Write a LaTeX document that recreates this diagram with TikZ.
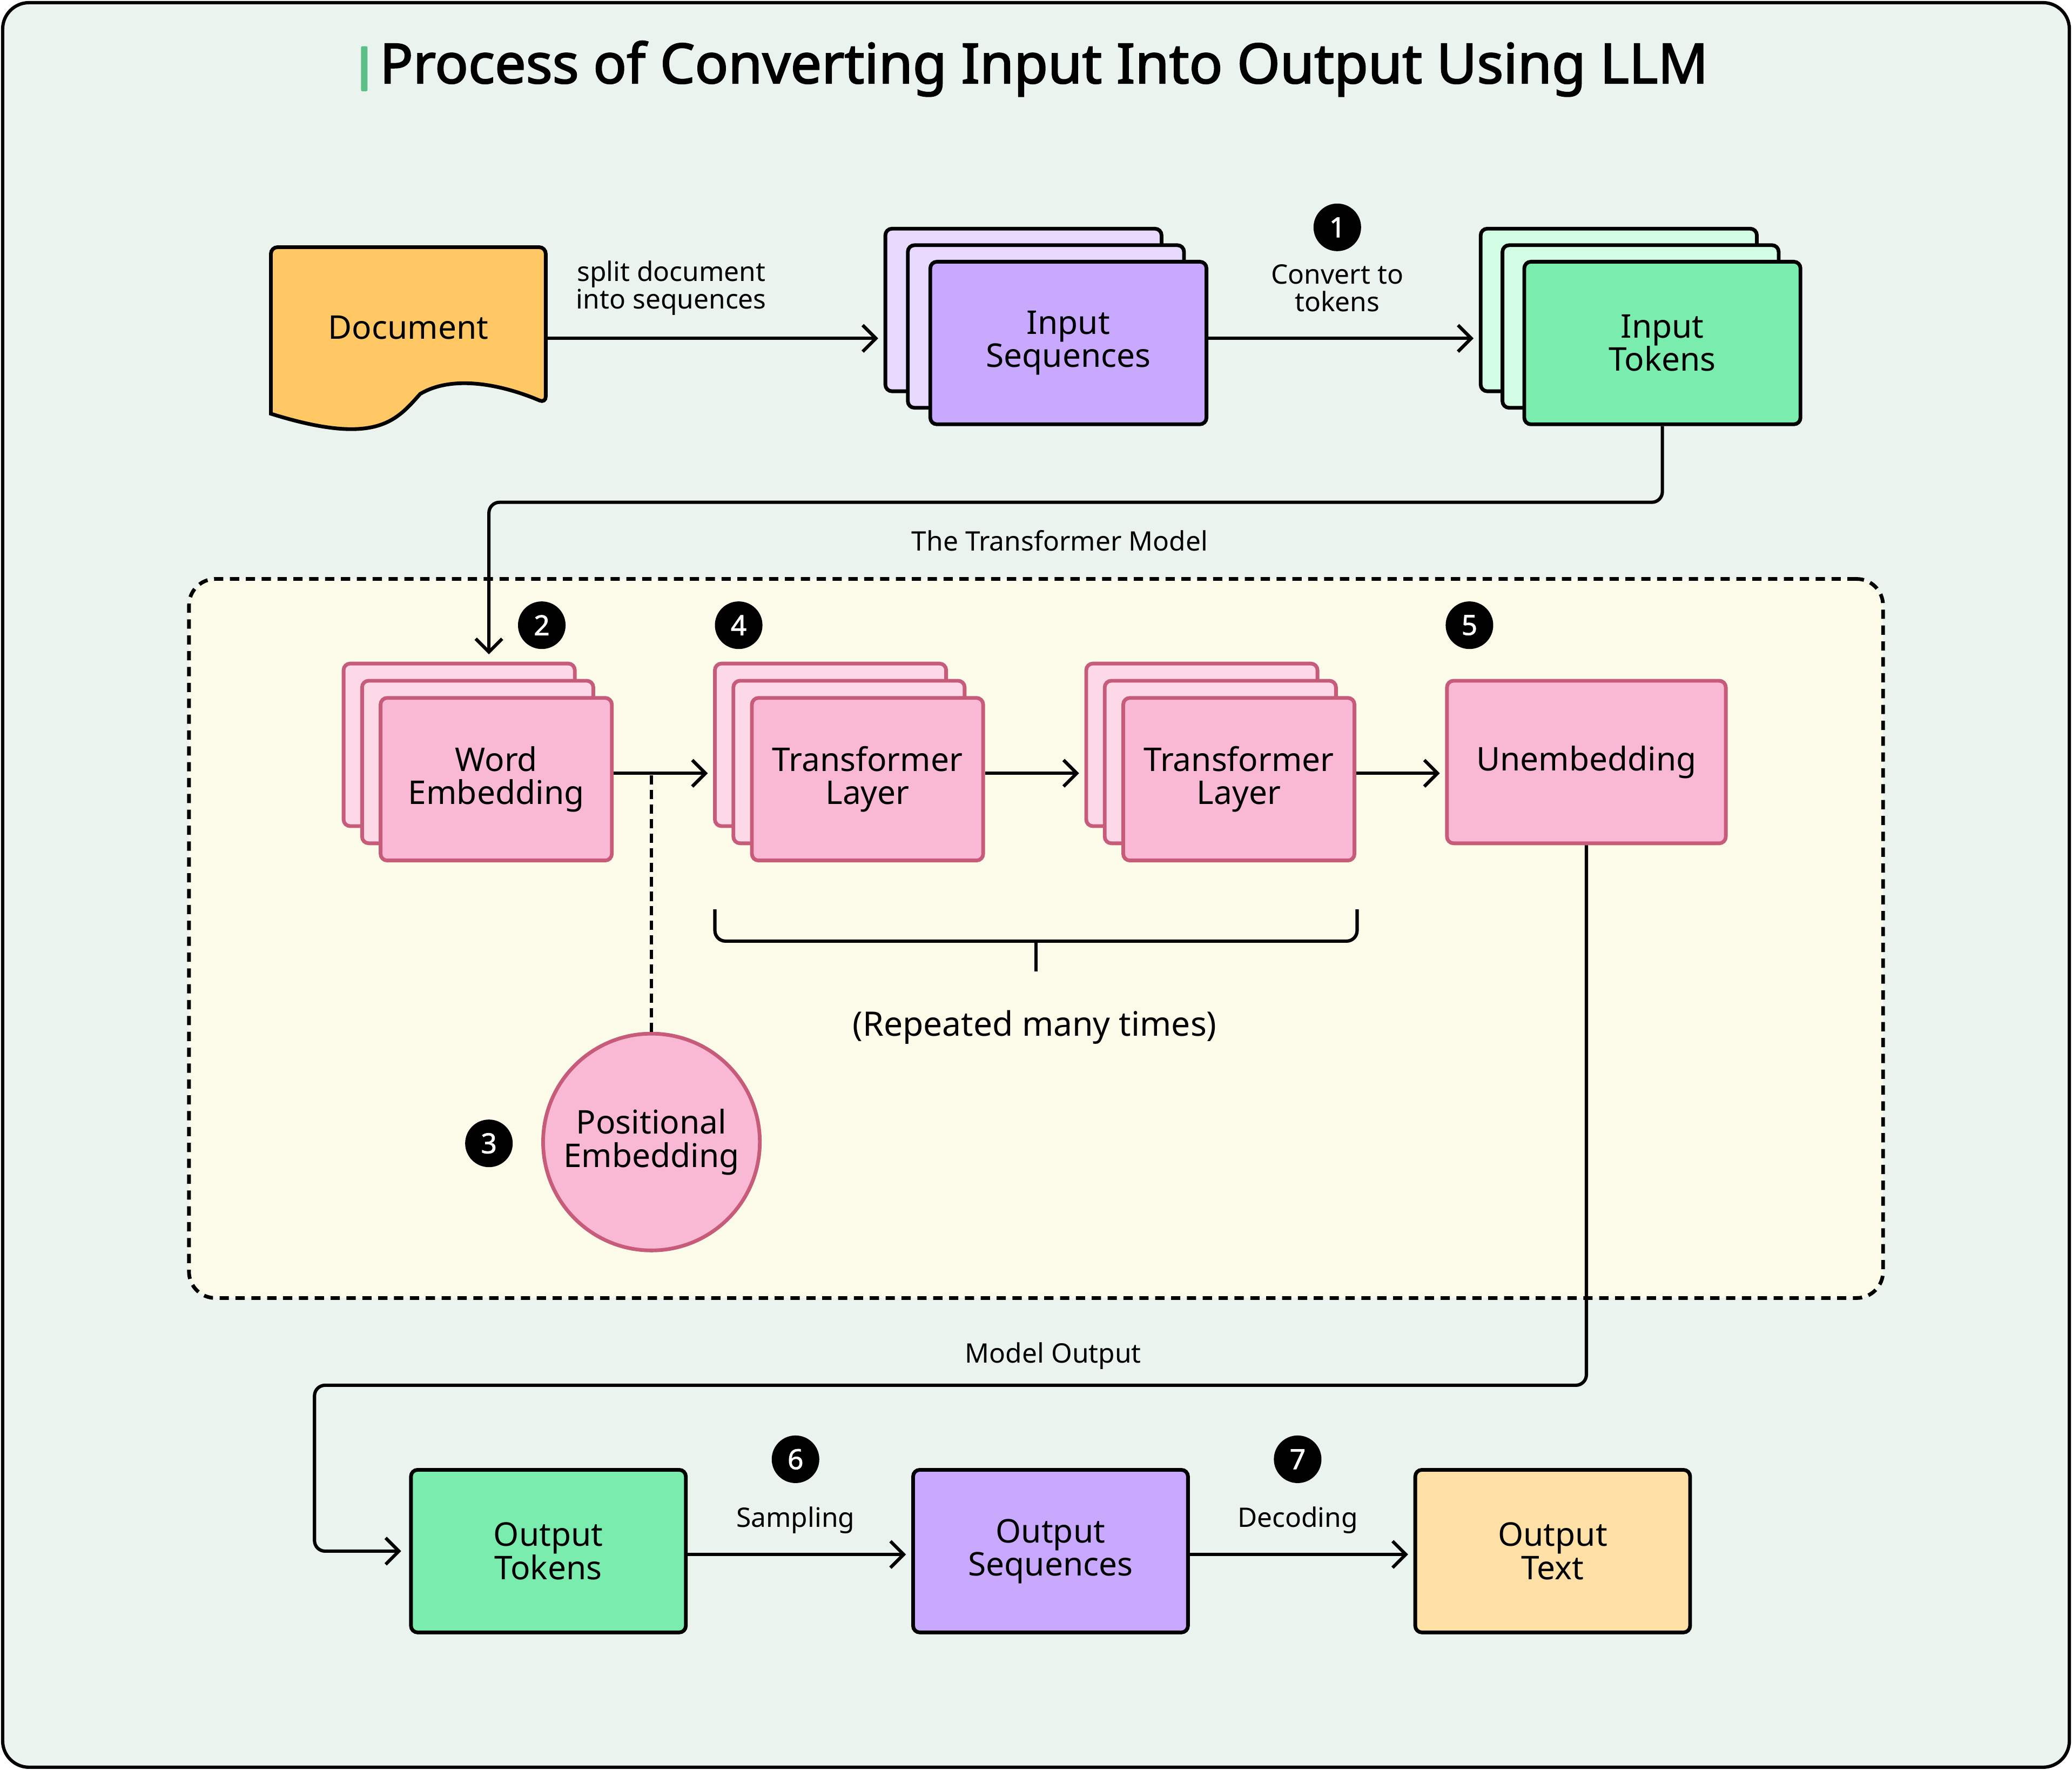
\documentclass[tikz,border=0pt]{standalone}
\usepackage{fontspec}
\setmainfont{Noto Sans}
\newfontfamily\titlefont{Noto Sans}[FakeBold=2.2]
\newfontfamily\badgefont{Noto Sans}[FakeBold=1.6]
\usepackage{tikz}
\usetikzlibrary{arrows.meta}
\definecolor{bgmint}{HTML}{EAF3EE}
\definecolor{tfmfill}{HTML}{FCFBEA}
\definecolor{docfill}{HTML}{FFC864}
\definecolor{purplefill}{HTML}{C8A9FE}
\definecolor{purpleback}{HTML}{E7DAFE}
\definecolor{greenfill}{HTML}{7AEDAE}
\definecolor{greenback}{HTML}{D3FCE5}
\definecolor{pinkfill}{HTML}{F9B9D5}
\definecolor{pinkback}{HTML}{FDD9E8}
\definecolor{pinkline}{HTML}{C75C7A}
\definecolor{textfill}{HTML}{FFE1A8}
\definecolor{titlebar}{HTML}{5CBF88}

\begin{document}
\begin{tikzpicture}[
      x=1pt, y=-1pt,
      box/.style={
        draw, line width=2.8pt, rounded corners=5pt,
        minimum width=209pt, minimum height=123pt,
        align=center, font=\fontsize{24.7}{25}\selectfont
      },
      pinkbox/.style={
        box, draw=pinkline, fill=pinkfill, minimum width=175pt
      },
      badge/.style={
        circle, fill=black, text=white, inner sep=0pt,
        minimum size=36pt, font=\badgefont\fontsize{21}{21}\selectfont
      },
      lbl/.style={
        align=center, font=\fontsize{20.3}{21}\selectfont
      },
      arr/.style={
        line width=2.5pt, shorten >=4pt,
        -{Straight Barb[length=10pt,width=20pt]}
      },
      dots/.style={line width=2.5pt, dash pattern=on 7pt off 4pt}
    ]
      \useasboundingbox (0,0) rectangle (1568,1339);
      \draw[line width=2.5pt, fill=bgmint, rounded corners=20pt]
        (2,2) rectangle (1566,1337);

      \node[inner sep=0pt, font=\titlefont\fontsize{41.8}{40}\selectfont]
        (title) at (790,52)
        {Process of Converting Input Into Output Using LLM};
      \fill[titlebar, rounded corners=1pt]
        ([xshift=-14pt,yshift=17pt]title.west)
        rectangle ([xshift=-9pt,yshift=-17pt]title.west);

      \node[draw, line width=2.8pt, dash pattern=on 7pt off 5pt,
        fill=tfmfill, rounded corners=20pt,
        minimum width=1282pt, minimum height=544pt] (tfm) at (784,710){};
      \node[lbl] (tfmlbl) at (802,409){The Transformer Model};

      \filldraw[fill=docfill, line width=2.8pt, rounded corners=5pt]
        (205,313) -- (205,187) -- (413,187) -- (413,305)
        [sharp corners] .. controls (385,293) and (345,282) .. (318,298)
        .. controls (300,318) and (285,338) .. (205,313) -- cycle;
      \node[box, draw=none, minimum width=208pt, minimum height=118pt]
        (doc) at (309,248){Document};

      \foreach \d/\n in {2/seqC,1/seqB} {
        \node[box, fill=purpleback] (\n) at (808.5-17*\d,259.5-12.5*\d){};
      }
      \node[box, fill=purplefill] (seq) at (808.5,259.5){Input\\Sequences};

      \foreach \d/\n in {2/tokC,1/tokB} {
        \node[box, fill=greenback] (\n) at (1258-16.5*\d,259.5-12.5*\d){};
      }
      \node[box, fill=greenfill] (tok) at (1258,259.5){Input\\Tokens};

      \foreach \d/\n in {2/weC,1/weB} {
        \node[pinkbox, fill=pinkback] (\n) at (375.5-14*\d,589.5-13*\d){};
      }
      \node[pinkbox] (we) at (375.5,589.5){Word\\Embedding};

      \foreach \d/\n in {2/tlaC,1/tlaB} {
        \node[pinkbox, fill=pinkback] (\n) at (656.5-14*\d,589.5-13*\d){};
      }
      \node[pinkbox] (tla) at (656.5,589.5){Transformer\\Layer};

      \foreach \d/\n in {2/tlbC,1/tlbB} {
        \node[pinkbox, fill=pinkback] (\n) at (937.5-14*\d,589.5-13*\d){};
      }
      \node[pinkbox] (tlb) at (937.5,589.5){Transformer\\Layer};

      \node[pinkbox, minimum width=211pt] (un) at (1200.5,576.5){Unembedding};

      \node[circle, draw=pinkline, fill=pinkfill, line width=2.8pt,
        minimum size=164pt, inner sep=0pt, align=center,
        font=\fontsize{24.7}{25}\selectfont] (pos) at (493,864)
        {Positional\\Embedding};

      \node[box, fill=greenfill, minimum width=208pt] (ot) at (415,1173.5)
        {Output\\Tokens};
      \node[box, fill=purplefill, minimum width=208pt] (os) at (795,1173.5)
        {Output\\Sequences};
      \node[box, fill=textfill, minimum width=208pt] (otx) at (1175,1173.5)
        {Output\\Text};

      \foreach \n/\x/\y in {1/1012/172,2/410/473,3/370/865,4/559/473,
          5/1112/473,6/602/1104,7/982/1104} {
        \node[badge] (b\n) at (\x,\y){\n};
      }

      \node[lbl] (split) at (508,218){split document\\into sequences};
      \node[lbl] (conv) at (1012,218){Convert to\\tokens};
      \node[lbl] (samp) at (602,1150){Sampling};
      \node[lbl] (dec) at (982,1150){Decoding};
      \node[lbl] (mout) at (797,1026){Model Output};
      \node[font=\fontsize{25.5}{25}\selectfont] (rep) at (783,777)
        {(Repeated many times)};

      \draw[arr] (doc.east |- 0,256) -- (seqC.west |- 0,256);
      \draw[arr] (seq.east |- 0,256) -- (tokC.west |- 0,256);

      \coordinate (topTurn) at (370,380);
      \coordinate (weIn) at (370,501);
      \draw[arr, shorten >=6pt, rounded corners=8pt]
        (tok.south) |- (topTurn) -- (weIn);

      \draw[arr] (we.east |- 0,585) -- (tlaC.west |- 0,585);
      \draw[arr] (tla.east |- 0,585) -- (tlbC.west |- 0,585);
      \draw[arr] (tlb.east |- 0,585) -- (un.west |- 0,585);

      \draw[dots] (pos.north) -- (pos.north |- 0,586);

      \coordinate (braceL) at (541,688);
      \coordinate (braceR) at (1027,688);
      \coordinate (braceM) at (784,735);
      \draw[line width=2.5pt, rounded corners=8pt]
        (braceL) -- (541,712) -- (1027,712) -- (braceR);
      \draw[line width=2.5pt] (784,712) -- (braceM);

      \coordinate (botTurn) at (238,1048);
      \draw[arr, shorten >=6pt, rounded corners=8pt]
        (un.south) |- (botTurn) |- (ot.west);

      \draw[arr] (ot.east |- 0,1176) -- (os.west |- 0,1176);
      \draw[arr] (os.east |- 0,1176) -- (otx.west |- 0,1176);
    \end{tikzpicture}
\end{document}
